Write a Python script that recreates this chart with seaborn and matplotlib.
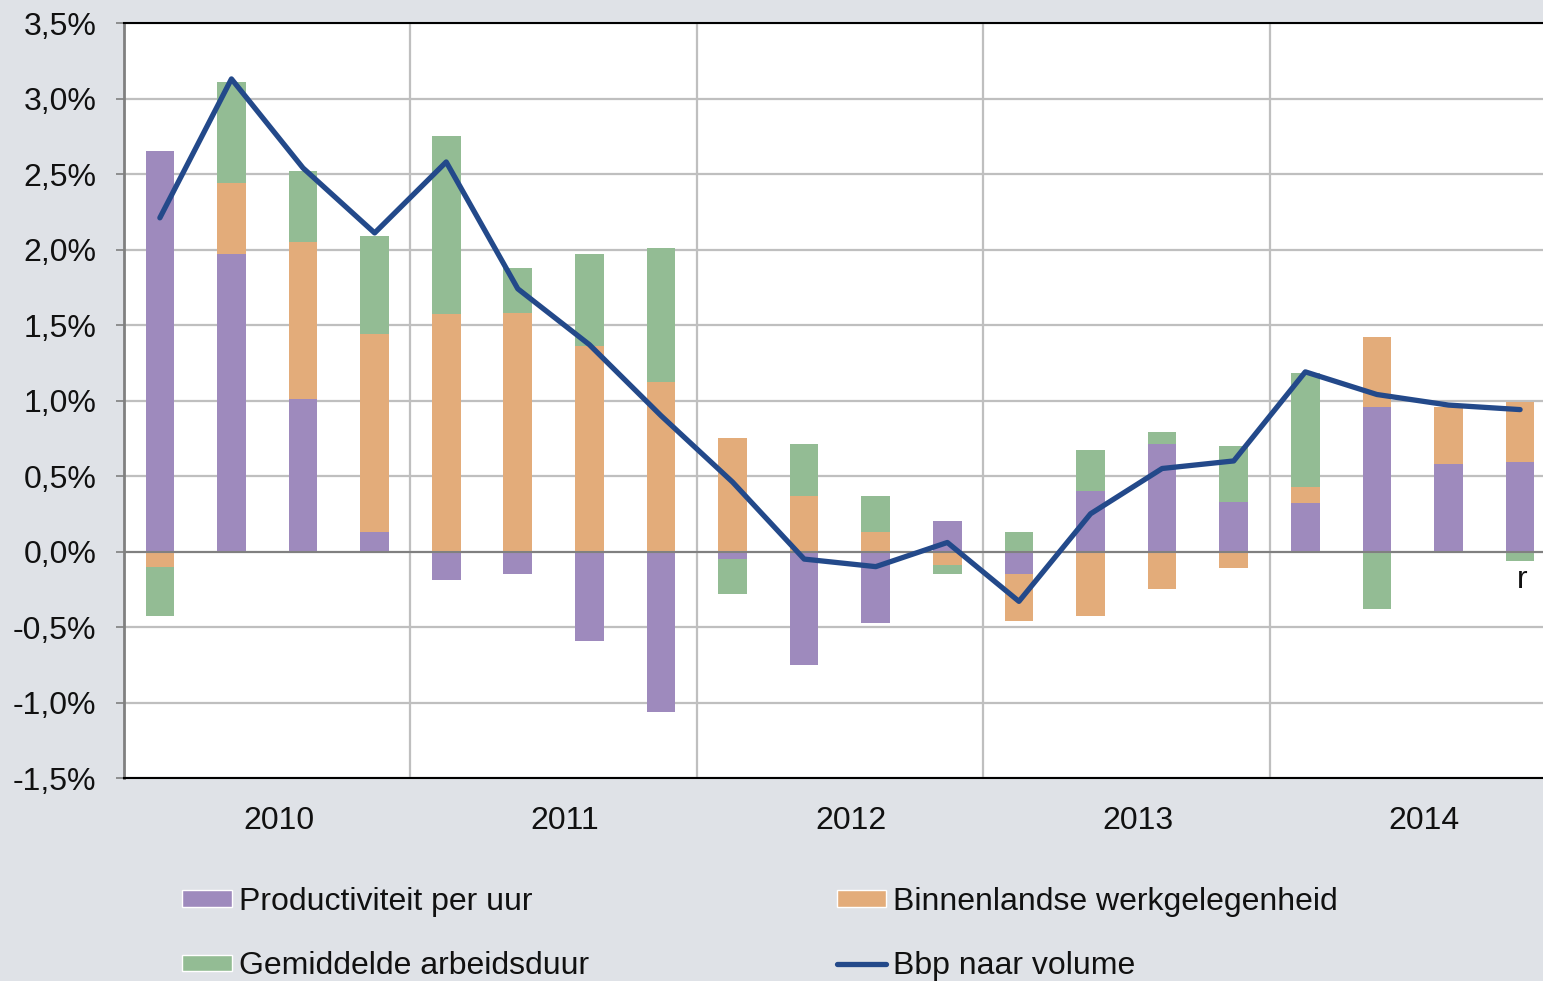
import numpy as np
import pandas as pd
import matplotlib.pyplot as plt
import seaborn as sns
from matplotlib.patches import Patch
from matplotlib.lines import Line2D

# Data (percent change)
kwartalen = ["2010K1", "2010K2", "2010K3", "2010K4",
             "2011K1", "2011K2", "2011K3", "2011K4",
             "2012K1", "2012K2", "2012K3", "2012K4",
             "2013K1", "2013K2", "2013K3", "2013K4",
             "2014K1", "2014K2", "2014K3", "2014K4"]
jaren = ["2010", "2011", "2012", "2013", "2014"]
productiviteit = [2.65, 1.97, 1.01, 0.13, -0.19, -0.15, -0.59, -1.06, -0.05, -0.75,
                  -0.47, 0.20, -0.15, 0.40, 0.71, 0.33, 0.32, 0.96, 0.58, 0.59]
werkgelegenheid = [-0.10, 0.47, 1.04, 1.31, 1.57, 1.58, 1.36, 1.12, 0.75, 0.37,
                   0.13, -0.09, -0.31, -0.43, -0.25, -0.11, 0.11, 0.46, 0.38, 0.40]
arbeidsduur = [-0.33, 0.67, 0.47, 0.65, 1.18, 0.30, 0.61, 0.89, -0.23, 0.34,
               0.24, -0.06, 0.13, 0.27, 0.08, 0.37, 0.75, -0.38, 0.00, -0.06]
bbp = [2.21, 3.13, 2.54, 2.11, 2.58, 1.74, 1.37, 0.90, 0.46, -0.05,
       -0.10, 0.06, -0.33, 0.25, 0.55, 0.60, 1.19, 1.04, 0.97, 0.94]

labels = ["Productiviteit per uur", "Binnenlandse werkgelegenheid",
          "Gemiddelde arbeidsduur", "Bbp naar volume"]
colors = ["#9E8ABD", "#E3AC7A", "#93BC94"]
line_color = "#23498A"
bg = "#DFE2E7"
txt = "#111111"

sns.set_theme(style="white")
plt.rcParams['font.family'] = ['Liberation Sans', 'DejaVu Sans']
FS = 23

df = pd.DataFrame({"kwartaal": kwartalen,
                   labels[0]: productiviteit,
                   labels[1]: werkgelegenheid,
                   labels[2]: arbeidsduur})

vals = df[labels[:3]].to_numpy()
pos = np.clip(vals, 0, None).cumsum(axis=1)
neg = np.clip(vals, None, 0).cumsum(axis=1)

fig = plt.figure(figsize=(15.43, 9.81), dpi=100, facecolor=bg)
ax = fig.add_axes([0.0804, 0.2069, 0.9196, 0.7696])
ax.set_facecolor("white")

# layered stacked bars: draw cumulative totals from top series down
for i in reversed(range(3)):
    for stack in (pos, neg):
        sns.barplot(x=df["kwartaal"], y=stack[:, i], order=kwartalen, color=colors[i],
                    saturation=1, width=0.4, errorbar=None, linewidth=0, ax=ax, zorder=3)

sns.lineplot(x=np.arange(len(bbp)), y=bbp, color=line_color, linewidth=3.8,
             ax=ax, zorder=5, solid_joinstyle="round", solid_capstyle="round")

ax.axhline(0, color="#808080", linewidth=1.5, zorder=4)

ax.set_xlim(-0.5, 19.32)
ax.set_ylim(-1.5, 3.5)
ax.set_yticks(np.arange(-1.5, 3.51, 0.5))
ax.set_yticklabels([f"{v:.1f}%".replace(".", ",") for v in np.arange(-1.5, 3.51, 0.5)],
                   fontsize=FS, color=txt)
ax.set_xticks([3.5, 7.5, 11.5, 15.5])
ax.set_xticklabels([])
ax.set_xticks([i * 4 + 1.66 for i in range(len(jaren))], minor=True)
ax.set_xticklabels(jaren, minor=True, fontsize=FS, color=txt)
ax.tick_params(axis="x", which="both", length=0, pad=20)
ax.tick_params(axis="y", length=6, width=1.2, color="#808080", pad=14, left=True)
ax.set_xlabel("")
ax.set_ylabel("")

ax.grid(True, which="major", color="#BFBFBF", linewidth=1.6, zorder=0)
ax.set_axisbelow(True)

for side in ["top", "bottom"]:
    ax.spines[side].set_color("black")
    ax.spines[side].set_linewidth(1.5)
ax.spines["left"].set_color("#808080")
ax.spines["left"].set_linewidth(2)
ax.spines["right"].set_visible(False)

ax.text(19.03, -0.19, "r", fontsize=FS, ha="center", va="center", color=txt)

handles = [Patch(facecolor=colors[0]), Patch(facecolor=colors[2]),
           Patch(facecolor=colors[1]), Line2D([0], [0], color=line_color, linewidth=3.8)]
fig.legend(handles, [labels[0], labels[2], labels[1], labels[3]],
           loc="upper left", bbox_to_anchor=(0.118, 0.096), ncol=2, frameon=False,
           fontsize=FS, handlelength=1.55, handleheight=0.42, handletextpad=0.22,
           columnspacing=7.76, labelspacing=1.08, borderpad=0, borderaxespad=0,
           labelcolor=txt)

fig.savefig("out.png", dpi=100, facecolor=bg)
